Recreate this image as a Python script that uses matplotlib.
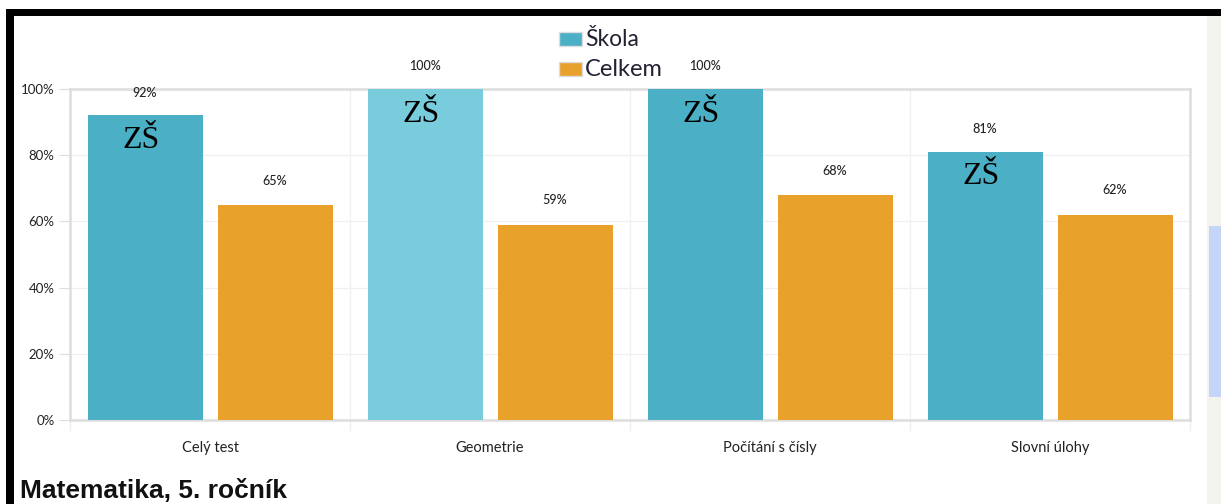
import numpy as np
import matplotlib.pyplot as plt
from matplotlib.patches import Rectangle

kategorie = ['Celý test', 'Geometrie', 'Počítání s čísly', 'Slovní úlohy']
skola = [92, 100, 100, 81]
celkem = [65, 59, 68, 62]
skola_barvy = ['#4bb0c6', '#78ccdc', '#4bb0c6', '#4bb0c6']
zs_text = ['ZŠ', 'ZŠ', 'ZŠ', 'ZŠ']
yticks = [0, 20, 40, 60, 80, 100]

W, H = 1221, 504
fig = plt.figure(figsize=(W / 100, H / 100), dpi=100)
fig.patch.set_facecolor('white')

# plocha grafu v pixelech
x0, x1, ytop, ybot = 70, 1190, 89, 420
ax = fig.add_axes([x0 / W, (H - ybot) / H, (x1 - x0) / W, (ybot - ytop) / H])
ax.set_xlim(-0.5, 3.5)
ax.set_ylim(0, 100)

x = np.arange(len(kategorie))
sirka = 115 / 280
posun = 65 / 280

ax.bar(x - posun, skola, sirka, color=skola_barvy, zorder=3)
ax.bar(x + posun, celkem, sirka, color='#e8a12b', zorder=3)

for i in range(len(kategorie)):
    ax.annotate(f'{skola[i]}%', (x[i] - posun, skola[i]), xytext=(0, 16.5),
                textcoords='offset points', ha='center', va='center',
                fontsize=9, family='Lato', weight='medium', color='#222222', clip_on=False)
    ax.annotate(f'{celkem[i]}%', (x[i] + posun, celkem[i]), xytext=(0, 17.5),
                textcoords='offset points', ha='center', va='center',
                fontsize=9, family='Lato', weight='medium', color='#222222')
    ax.annotate(zs_text[i], (x[i] - posun, skola[i]), xytext=(-3, -18),
                textcoords='offset points', ha='center', va='center',
                fontsize=23, family='Liberation Serif', color='black', zorder=5)

# mřížka
for v in [20, 40, 60, 80]:
    ax.axhline(v, color='#f0f0f0', lw=1, zorder=1)
for s in [0.5, 1.5, 2.5]:
    ax.axvline(s, color='#f0f0f0', lw=1, zorder=1)
for s in [-0.5, 0.5, 1.5, 2.5, 3.5]:
    ax.plot([s, s], [0, -3], color='#eeeeee', lw=1, clip_on=False)

for sp in ax.spines.values():
    sp.set_color('#dddddd')
    sp.set_linewidth(1.8)

ax.set_yticks(yticks)
ax.set_yticklabels([f'{t}%' for t in yticks], fontsize=9.5, family='Lato', color='#222222')
ax.tick_params(axis='y', length=8, color='#dddddd', pad=3)
ax.set_xticks(x)
ax.set_xticklabels(kategorie, fontsize=10.5, family='Lato', color='#222222')
ax.tick_params(axis='x', length=0, pad=15)

# legenda
fig.patches.append(Rectangle((559 / W, (H - 46) / H), 23 / W, 14 / H,
                             transform=fig.transFigure, facecolor='#4bb0c6',
                             edgecolor='#dddddd', lw=1))
fig.patches.append(Rectangle((559 / W, (H - 76) / H), 23 / W, 14 / H,
                             transform=fig.transFigure, facecolor='#e8a12b',
                             edgecolor='#dddddd', lw=1))
fig.text(585 / W, (H - 39) / H, 'Škola', fontsize=16.5, family='Lato',
         color='#222233', va='center')
fig.text(585 / W, (H - 69) / H, 'Celkem', fontsize=17, family='Lato',
         color='#222233', va='center')

# nadpis dole
fig.text(20 / W, (H - 491) / H, 'Matematika, 5. ročník', fontsize=19,
         family='Liberation Sans', weight='bold', color='#111111', va='center')

# okraje snímku obrazovky
fig.patches.append(Rectangle((6 / W, (H - 16) / H), (W - 6) / W, 7 / H,
                             transform=fig.transFigure, facecolor='black', lw=0))
fig.patches.append(Rectangle((6 / W, 0), 8 / W, (H - 9) / H,
                             transform=fig.transFigure, facecolor='black', lw=0))
fig.patches.append(Rectangle((1207 / W, 0), 14 / W, (H - 16) / H,
                             transform=fig.transFigure, facecolor='#f5f3f0', lw=0))
fig.patches.append(Rectangle((1209 / W, (H - 397) / H), 12 / W, 171 / H,
                             transform=fig.transFigure, facecolor='#c5d5f8', lw=0))

fig.savefig('out.png', dpi=100)
